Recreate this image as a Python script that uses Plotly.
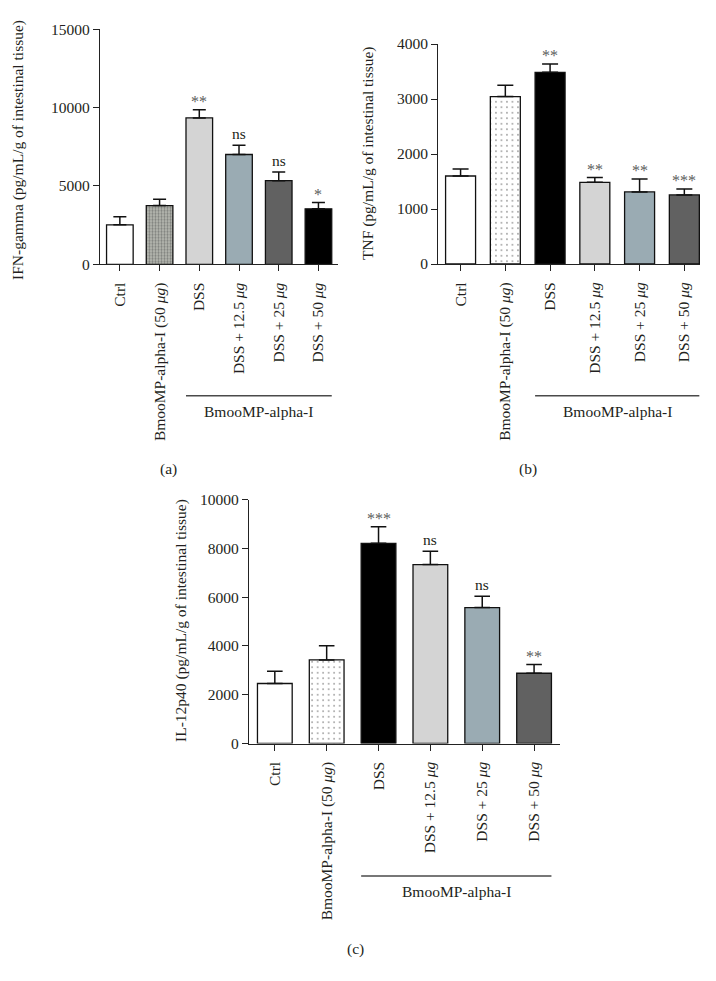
import plotly.graph_objects as go

W, H = 716, 981

categories = ["Ctrl", "BmooMP-alpha-I (50 μg)", "DSS", "DSS + 12.5 μg", "DSS + 25 μg", "DSS + 50 μg"]

ifn_mean = [2520, 3750, 9340, 7010, 5340, 3540]
ifn_sem = [510, 400, 530, 590, 550, 400]
ifn_sig = ["", "", "**", "ns", "ns", "*"]

tnf_mean = [1600, 3045, 3485, 1485, 1310, 1255]
tnf_sem = [128, 206, 151, 86, 236, 109]
tnf_sig = ["", "", "**", "**", "**", "***"]

il_mean = [2460, 3425, 8205, 7335, 5570, 2880]
il_sem = [500, 585, 680, 545, 460, 355]
il_sig = ["", "", "***", "ns", "ns", "**"]

group_label = "BmooMP-alpha-I"

FONT = "Liberation Serif"
TXT = "#231f20"

def px(x):
    return x / W

def py(y):
    return 1 - y / H

ticktext = [c.replace("μg", "<i>μg</i>") for c in categories]
idx = list(range(len(categories)))

panels = [
    dict(mean=ifn_mean, sem=ifn_sem, sig=ifn_sig,
         colors=["#ffffff", "#b9bcb4", "#d4d4d4", "#9aabb3", "#616161", "#000000"],
         patterned="gray",
         title="IFN-gamma (pg/mL/g of intestinal tissue)",
         xdom=[100, 338.3], ydom=[264.3, 29.3], xr=[-0.5, 5.5], yr=[0, 15000], dtick=5000,
         capw=6.5, title_xy=(18, 150), label="(a)", label_xy=(168, 469),
         line_y=395.7, text_y=411),
    dict(mean=tnf_mean, sem=tnf_sem, sig=tnf_sig,
         colors=["#ffffff", "#ffffff", "#000000", "#d4d4d4", "#9aabb3", "#616161"],
         patterned="dots",
         title="TNF (pg/mL/g of intestinal tissue)",
         xdom=[438.2, 700], ydom=[264, 44], xr=[-0.5, 5.35], yr=[0, 4000], dtick=1000,
         capw=8, title_xy=(368, 153), label="(b)", label_xy=(528, 469),
         line_y=395.7, text_y=411),
    dict(mean=il_mean, sem=il_sem, sig=il_sig,
         colors=["#ffffff", "#ffffff", "#000000", "#d4d4d4", "#9aabb3", "#616161"],
         patterned="dots",
         title="IL-12p40 (pg/mL/g of intestinal tissue)",
         xdom=[248.9, 560], ydom=[743.5, 499.5], xr=[-0.5, 5.5], yr=[0, 10000], dtick=2000,
         capw=7.8, title_xy=(181, 621), label="(c)", label_xy=(355, 949),
         line_y=876, text_y=891),
]

fig = go.Figure()
annotations = []
shapes = []

for k, p in enumerate(panels):
    n = "" if k == 0 else str(k + 1)
    xa, ya = "x" + n, "y" + n
    if p["patterned"] == "gray":
        pat = dict(shape=["", ".", "", "", "", ""], fgcolor="#8e9289",
                   size=3, solidity=0.45, fillmode="overlay")
    else:
        pat = dict(shape=["", ".", "", "", "", ""], fgcolor="#333333",
                   size=5.5, solidity=0.1, fillmode="overlay")
    fig.add_trace(go.Bar(
        x=idx, y=p["mean"], width=0.67,
        marker=dict(color=p["colors"], line=dict(color="#111111", width=1.3), pattern=pat),
        error_y=dict(type="data", array=p["sem"], arrayminus=[0] * 6, symmetric=False,
                     color="#111111", thickness=1.5, width=p["capw"]),
        xaxis=xa, yaxis=ya, showlegend=False,
    ))
    xkey = "xaxis" + n
    ykey = "yaxis" + n
    fig.layout[xkey] = dict(
        domain=[px(p["xdom"][0]), px(p["xdom"][1])], anchor=ya, range=p["xr"],
        tickmode="array", tickvals=idx, ticktext=ticktext, tickangle=-90,
        ticks="outside", ticklen=6, tickwidth=1.3, tickcolor="#222",
        showline=True, linecolor="#222", linewidth=1.3, showgrid=False, zeroline=False,
        tickfont=dict(family=FONT, size=15.5, color=TXT), fixedrange=True, automargin=False,
        ticklabelstandoff=5,
    )
    fig.layout[ykey] = dict(
        domain=[py(p["ydom"][0]), py(p["ydom"][1])], anchor=xa, range=p["yr"],
        dtick=p["dtick"], tickformat="d",
        ticks="outside", ticklen=6, tickwidth=1.3, tickcolor="#222",
        showline=True, linecolor="#222", linewidth=1.3, showgrid=False, zeroline=False,
        tickfont=dict(family=FONT, size=15.5, color=TXT), fixedrange=True, automargin=False,
    )
    for i, s in enumerate(p["sig"]):
        if not s:
            continue
        star = s.startswith("*")
        annotations.append(dict(
            x=i, y=p["mean"][i] + p["sem"][i], xref=xa, yref=ya, text=s, showarrow=False,
            yanchor="bottom", yshift=(-2 if star else 1),
            font=dict(family=FONT, size=(16 if star else 15.5), color=("#5c5c5c" if star else TXT)),
        ))
    annotations.append(dict(
        x=px(p["title_xy"][0]), y=py(p["title_xy"][1]), xref="paper", yref="paper",
        text=p["title"], textangle=-90, showarrow=False, xanchor="center", yanchor="middle",
        font=dict(family=FONT, size=15.5, color=TXT),
    ))
    annotations.append(dict(
        x=px(p["label_xy"][0]), y=py(p["label_xy"][1]), xref="paper", yref="paper",
        text=p["label"], showarrow=False, xanchor="center", yanchor="middle",
        font=dict(family=FONT, size=15.5, color=TXT),
    ))
    shapes.append(dict(type="line", xref=xa, yref="paper", x0=2 - 0.335, x1=5 + 0.335,
                       y0=py(p["line_y"]), y1=py(p["line_y"]),
                       line=dict(color="#4a4a4a", width=1.6)))
    annotations.append(dict(
        x=3.5, y=py(p["text_y"]), xref=xa, yref="paper", text=group_label, showarrow=False,
        xanchor="center", yanchor="middle", font=dict(family=FONT, size=15.5, color=TXT),
    ))

fig.update_layout(
    width=W, height=H, autosize=False,
    margin=dict(l=0, r=0, t=0, b=0, pad=0),
    paper_bgcolor="white", plot_bgcolor="white",
    annotations=annotations, shapes=shapes,
    font=dict(family=FONT, color=TXT),
)

fig.write_html(
    "out.html", config={"displayModeBar": False},
    post_script=("document.documentElement.style.margin='0';"
                 "document.body.style.margin='0';document.body.style.padding='0';"
                 "document.body.style.overflow='hidden';"),
)
